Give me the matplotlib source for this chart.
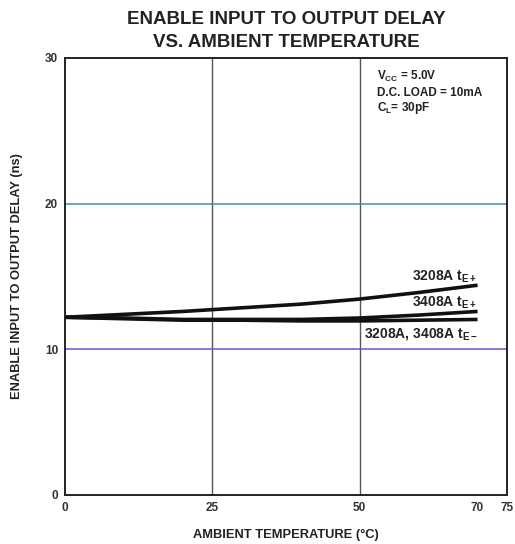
import matplotlib
matplotlib.use("Agg")
import matplotlib.pyplot as plt

plt.rcParams['font.family'] = ['Liberation Sans', 'DejaVu Sans']

# Ambient temperature (°C) and enable-to-output delay (ns)
temp = [0, 10, 20, 30, 40, 50, 60, 70]
delay_3208_te_plus = [12.2, 12.4, 12.6, 12.85, 13.1, 13.45, 13.9, 14.4]
delay_3408_te_plus = [12.2, 12.15, 12.05, 12.05, 12.05, 12.15, 12.35, 12.6]
delay_te_minus = [12.2, 12.1, 12.0, 12.0, 11.95, 11.95, 12.0, 12.05]

x_ticks = [0, 25, 50, 70, 75]
y_ticks = [0, 10, 20, 30]

fig = plt.figure(figsize=(5.15, 5.44), dpi=100)
ax = fig.add_axes([0.1262, 0.0901, 0.8583, 0.8033])

ax.set_xlim(0, 75)
ax.set_ylim(0, 30)

# grid
for gx in (25, 50):
    ax.axvline(gx, color='#555555', lw=1.0, zorder=1)
ax.axhline(20, color='#3f8fa8', lw=1.1, zorder=1)
ax.axhline(10, color='#6655d8', lw=1.1, zorder=1)

lw = 2.6
ax.plot(temp, delay_3208_te_plus, color='#111111', lw=lw, solid_capstyle='butt', zorder=3)
ax.plot(temp, delay_3408_te_plus, color='#111111', lw=lw, solid_capstyle='butt', zorder=3)
ax.plot(temp, delay_te_minus, color='#111111', lw=lw, solid_capstyle='butt', zorder=3)

for s in ax.spines.values():
    s.set_linewidth(1.4)
    s.set_color('#222222')

ax.set_xticks(x_ticks)
ax.set_yticks(y_ticks)
ax.tick_params(length=0, pad=5, labelsize=8.5)
for lab in ax.get_xticklabels() + ax.get_yticklabels():
    lab.set_fontweight('bold')
    lab.set_color('#333333')

# axis titles
fig.text(0.555, 0.0165, 'AMBIENT TEMPERATURE (°C)', ha='center', va='center',
         fontsize=9.3, fontweight='bold', color='#222222')
fig.text(0.033, 0.4926, 'ENABLE INPUT TO OUTPUT DELAY (ns)', ha='center', va='center',
         rotation=90, fontsize=9.3, fontweight='bold', color='#222222')

fig.text(0.555, 0.965, 'ENABLE INPUT TO OUTPUT DELAY', ha='center', va='center',
         fontsize=13.5, fontweight='bold', color='#222222')
fig.text(0.555, 0.921, 'VS. AMBIENT TEMPERATURE', ha='center', va='center',
         fontsize=13.5, fontweight='bold', color='#222222')

cond = dict(fontsize=8.5, fontweight='bold', color='#222222', ha='left', va='center')
ax.text(53.0, 28.7, r'V$_{\mathregular{CC}}$ = 5.0V', **cond)
ax.text(53.0, 27.6, 'D.C. LOAD = 10mA', **cond)
ax.text(53.0, 26.6, r'C$_{\mathregular{L}}$= 30pF', **cond)

lab = dict(fontsize=10, fontweight='bold', color='#222222', ha='right', va='center')
ax.text(70, 14.95, r'3208A t$_{\mathregular{E+}}$', **lab)
ax.text(70, 13.2, r'3408A t$_{\mathregular{E+}}$', **lab)
ax.text(70, 11.05, r'3208A, 3408A t$_{\mathregular{E-}}$', **lab)

fig.savefig('out.png', dpi=100, facecolor='white')
